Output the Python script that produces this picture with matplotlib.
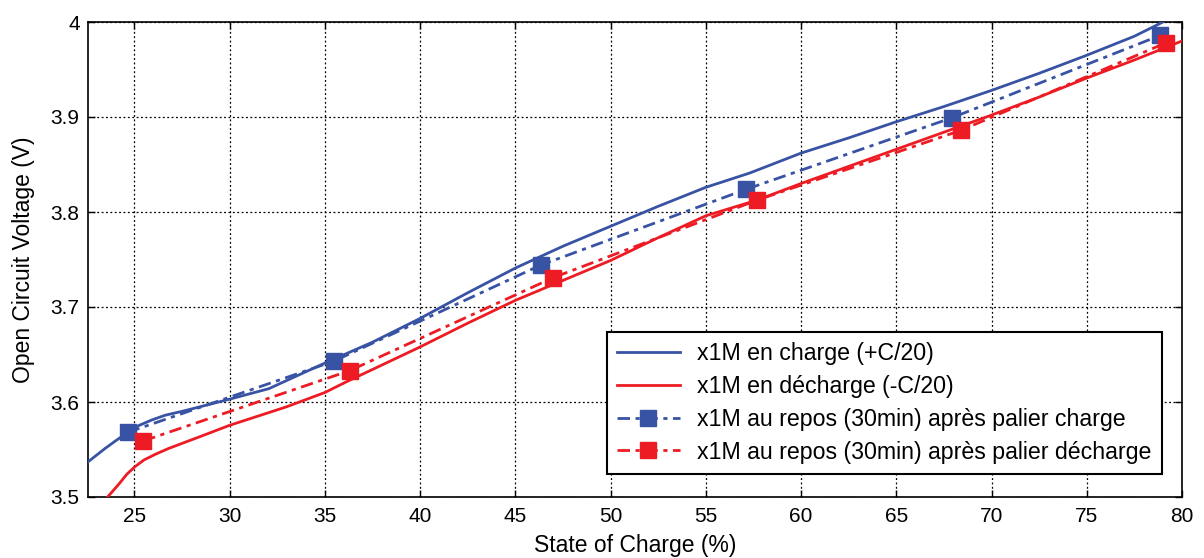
import matplotlib
matplotlib.use("Agg")
import matplotlib.pyplot as plt

plt.rcParams['font.family'] = ['Liberation Sans', 'DejaVu Sans']

# Continuous curves (SOC %, OCV V)
charge_soc = [22.56, 23.45, 24.0, 24.64, 25.2, 25.9, 26.6, 27.67, 30, 32.05, 35, 37.5, 40, 42.5,
              45, 47.5, 50, 52.5, 55, 57.3, 60, 62.5, 65, 67.5, 70, 72.5, 75, 77.5, 79.0]
charge_ocv = [3.537, 3.551, 3.559, 3.568, 3.575, 3.581, 3.586, 3.591, 3.603, 3.614, 3.641,
              3.663, 3.688, 3.715, 3.741, 3.764, 3.785, 3.806, 3.826, 3.841, 3.862, 3.878,
              3.895, 3.911, 3.928, 3.946, 3.965, 3.985, 4.0]

discharge_soc = [23.2, 23.5, 24.2, 24.6, 25.03, 25.5, 26.1, 26.78, 28.5, 30, 32.95, 35, 36.1,
                 38, 40, 42.5, 45, 47.5, 50, 52.5, 55, 57.7, 60, 62.5, 65, 67.5, 70, 72.5,
                 75, 77.5, 80]
discharge_ocv = [3.492, 3.498, 3.514, 3.524, 3.532, 3.539, 3.545, 3.551, 3.564, 3.5755,
                 3.5947, 3.610, 3.621, 3.639, 3.658, 3.683, 3.707, 3.728, 3.749, 3.773,
                 3.796, 3.8126, 3.830, 3.848, 3.866, 3.884, 3.902, 3.921, 3.941, 3.960, 3.980]

# Rest points (30 min) after charge / discharge steps
rest_charge_soc = [24.64, 35.47, 46.32, 57.13, 67.9, 78.87]
rest_charge_ocv = [3.568, 3.643, 3.744, 3.824, 3.899, 3.986]
rest_discharge_soc = [25.46, 36.3, 47.0, 57.71, 68.4, 79.15]
rest_discharge_ocv = [3.559, 3.633, 3.731, 3.8126, 3.886, 3.978]

labels = ["x1M en charge (+C/20)",
          "x1M en décharge (-C/20)",
          "x1M au repos (30min) après palier charge",
          "x1M au repos (30min) après palier décharge"]

xticks = [25, 30, 35, 40, 45, 50, 55, 60, 65, 70, 75, 80]
yticks = [3.5, 3.6, 3.7, 3.8, 3.9, 4.0]
yticklabels = ["3.5", "3.6", "3.7", "3.8", "3.9", "4"]

blue = '#3953A4'
red = '#ED1C24'

fig = plt.figure(figsize=(12.04, 5.58), dpi=100)
ax = fig.add_axes([88/1204, 61/558, (1182-88)/1204, (497-22)/558])

dash = (0, (4.5, 2, 1.5, 2))
ax.plot(charge_soc, charge_ocv, color=blue, lw=2.0, label=labels[0], zorder=3)
ax.plot(discharge_soc, discharge_ocv, color=red, lw=2.0, label=labels[1], zorder=3)
ax.plot(rest_charge_soc, rest_charge_ocv, color=blue, lw=2.0, linestyle=dash,
        marker='s', markersize=11, label=labels[2], zorder=4)
ax.plot(rest_discharge_soc, rest_discharge_ocv, color=red, lw=2.0, linestyle=dash,
        marker='s', markersize=11, label=labels[3], zorder=4)

ax.set_xlim(22.56, 80)
ax.set_ylim(3.5, 4.0)
ax.set_xticks(xticks)
ax.set_yticks(yticks)
ax.set_yticklabels(yticklabels)
ax.grid(True, color='black', linestyle=(0, (1.5, 2)), linewidth=0.9)
ax.tick_params(direction='in', top=True, right=True, labelsize=15, length=5, width=1)
ax.tick_params(axis='x', pad=7)
ax.tick_params(axis='y', pad=6)
for s in ax.spines.values():
    s.set_linewidth(1.2)

ax.set_xlabel("State of Charge (%)", fontsize=16.5, labelpad=6)
ax.set_ylabel("Open Circuit Voltage (V)", fontsize=16.5, labelpad=11)

leg = ax.legend(loc='lower right', bbox_to_anchor=((1162 - 88)/1094, 23/475), bbox_transform=ax.transAxes,
                fontsize=16.7, numpoints=1, handlelength=2.7, fancybox=False, framealpha=1,
                edgecolor='black', borderpad=0.45, labelspacing=0.42, handletextpad=0.75,
                borderaxespad=0)
leg.get_frame().set_linewidth(1.5)
leg.set_zorder(10)

fig.savefig("out.png", dpi=100)
